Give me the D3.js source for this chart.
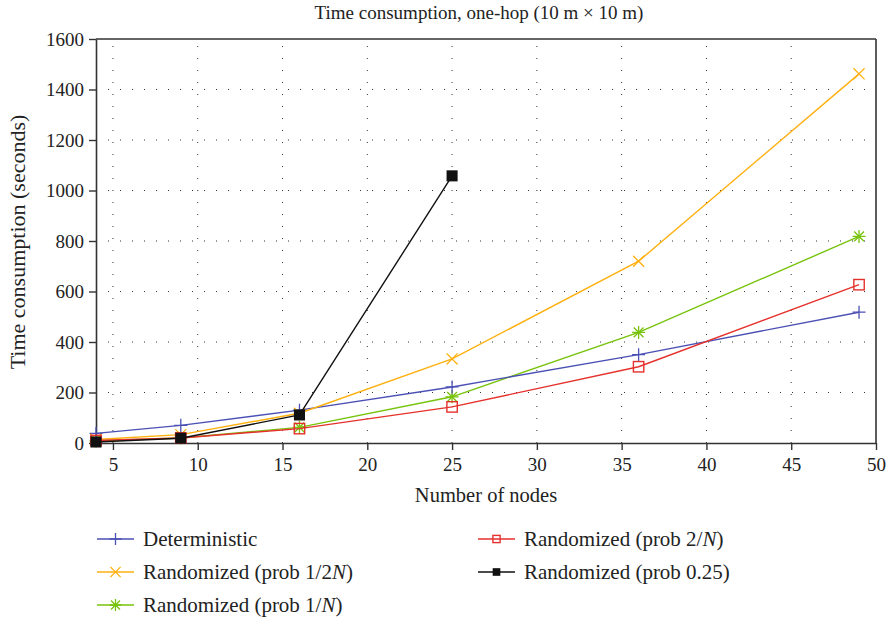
<!DOCTYPE html>
<html><head><meta charset="utf-8">
<script src="https://cdn.jsdelivr.net/npm/d3@7"></script>
<style>body{margin:0;background:#fff}svg{display:block}text{font-family:"Liberation Serif","DejaVu Serif",serif;fill:#222}</style>
</head><body><svg id="c" width="890" height="621"></svg>
<script>
const nodes = [4, 9, 16, 25, 36, 49];
const deterministic = [38, 70, 130, 222, 350, 518];
const randHalfN = [14, 33, 118, 333, 720, 1462];
const randOneN = [8, 20, 62, 183, 438, 818];
const randTwoN = [10, 20, 57, 143, 302, 627];
const rand025 = [4, 19, 111, 1058];
const xTicks = [5, 10, 15, 20, 25, 30, 35, 40, 45, 50];
const yTicks = [0, 200, 400, 600, 800, 1000, 1200, 1400, 1600];

const series = [
  {name: ["Randomized (prob 1/", "N", ")"], vals: randOneN, color: "#77c30c", mark: "star", col: 0, row: 2},
  {name: ["Deterministic"], vals: deterministic, color: "#4b50b4", mark: "plus", col: 0, row: 0},
  {name: ["Randomized (prob 1/2", "N", ")"], vals: randHalfN, color: "#ffb00f", mark: "x", col: 0, row: 1},
  {name: ["Randomized (prob 2/", "N", ")"], vals: randTwoN, color: "#e5312b", mark: "sq", col: 1, row: 0},
  {name: ["Randomized (prob 0.25)"], vals: rand025, color: "#111", mark: "fsq", col: 1, row: 1}
];

const svg = d3.select("#c");
const L = 96, R = 876, T = 39, B = 443;
const x = d3.scaleLinear().domain([4, 50]).range([L, R]);
const y = d3.scaleLinear().domain([0, 1600]).range([B, T]);

// grid
const g = svg.append("g");
g.selectAll("line.gx").data(xTicks.filter(d => d < 50)).join("line")
  .attr("x1", d => x(d)).attr("x2", d => x(d)).attr("y1", B).attr("y2", T)
  .attr("stroke", "#333").attr("stroke-width", 1).attr("stroke-dasharray", "1,11");
g.selectAll("line.gy").data(yTicks.filter(d => d > 0 && d < 1600)).join("line")
  .attr("y1", d => y(d)).attr("y2", d => y(d)).attr("x1", L).attr("x2", R)
  .attr("stroke", "#333").attr("stroke-width", 1).attr("stroke-dasharray", "1,11");

// axes
const ax = svg.append("g").attr("transform", `translate(0,${B})`)
  .call(d3.axisBottom(x).tickValues(xTicks).tickFormat(d3.format("d")).tickSize(7).tickSizeOuter(0).tickPadding(8));
const ay = svg.append("g").attr("transform", `translate(${L},0)`)
  .call(d3.axisLeft(y).tickValues(yTicks).tickFormat(d3.format("d")).tickSize(7).tickSizeOuter(0).tickPadding(5));
[ax, ay].forEach(a => {
  a.attr("font-family", null);
  a.select(".domain").attr("stroke", "#333").attr("stroke-width", 1.6);
  a.selectAll(".tick line").attr("stroke", "#333").attr("stroke-width", 1.4);
  a.selectAll(".tick text").attr("font-family", "Liberation Serif, serif").attr("font-size", 19).attr("fill", "#222");
});
svg.append("line").attr("x1", L).attr("x2", R).attr("y1", T).attr("y2", T).attr("stroke", "#333").attr("stroke-width", 1.6);
svg.append("line").attr("x1", R).attr("x2", R).attr("y1", T).attr("y2", B).attr("stroke", "#333").attr("stroke-width", 1.6);

function marker(sel, type, color, s) {
  if (type === "plus" || type === "star") {
    sel.append("path").attr("d", `M${-s},0H${s}M0,${-s}V${s}`).attr("stroke", color).attr("stroke-width", 1.3).attr("fill", "none");
  }
  if (type === "x" || type === "star") {
    const k = type === "star" ? s * 0.75 : s * 0.85;
    sel.append("path").attr("d", `M${-k},${-k}L${k},${k}M${-k},${k}L${k},${-k}`).attr("stroke", color).attr("stroke-width", 1.3).attr("fill", "none");
  }
  if (type === "sq") {
    sel.append("rect").attr("x", -s * 0.8).attr("y", -s * 0.8).attr("width", s * 1.6).attr("height", s * 1.6)
      .attr("stroke", color).attr("stroke-width", 1.4).attr("fill", "none");
  }
  if (type === "fsq") {
    sel.append("rect").attr("x", -s * 0.85).attr("y", -s * 0.85).attr("width", s * 1.7).attr("height", s * 1.7).attr("fill", color);
  }
}

const line = d3.line().x((d, i) => x(nodes[i])).y(d => y(d));
series.forEach(s => {
  svg.append("path").datum(s.vals).attr("d", line).attr("fill", "none").attr("stroke", s.color).attr("stroke-width", 1.4);
  s.vals.forEach((v, i) => {
    const m = svg.append("g").attr("transform", `translate(${x(nodes[i])},${y(v)})`);
    marker(m, s.mark, s.color, 6.5);
  });
});

// title and labels
svg.append("text").attr("x", 479).attr("y", 19).attr("text-anchor", "middle").attr("font-size", 19).text("Time consumption, one-hop (10 m × 10 m)");
svg.append("text").attr("x", 486).attr("y", 502).attr("text-anchor", "middle").attr("font-size", 20.5).text("Number of nodes");
svg.append("text").attr("transform", "translate(25,242) rotate(-90)").attr("text-anchor", "middle").attr("font-size", 22).text("Time consumption (seconds)");

// legend
const colX = [97, 478], rowY = [539, 572, 605];
series.forEach(s => {
  const lx = colX[s.col], ly = rowY[s.row];
  svg.append("line").attr("x1", lx).attr("x2", lx + 37).attr("y1", ly).attr("y2", ly).attr("stroke", s.color).attr("stroke-width", 1.4);
  const m = svg.append("g").attr("transform", `translate(${lx + 18.5},${ly})`);
  marker(m, s.mark, s.color, s.mark === "fsq" || s.mark === "sq" ? 4.5 : 6);
  const t = svg.append("text").attr("x", lx + 46).attr("y", ly + 7).attr("font-size", 21);
  s.name.forEach((p, i) => t.append("tspan").attr("font-style", i === 1 ? "italic" : null).text(p));
});
</script></body></html>
